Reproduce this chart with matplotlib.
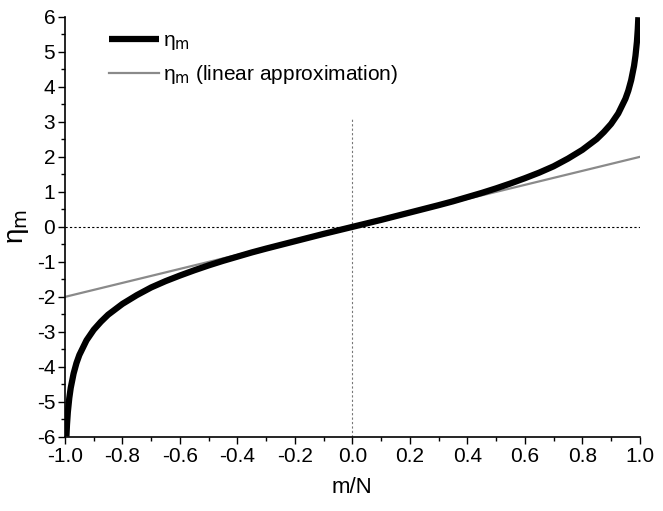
import matplotlib
matplotlib.use("Agg")
import matplotlib.pyplot as plt
from matplotlib.ticker import MultipleLocator

# values
m_over_n = [-0.995, -0.993, -0.99, -0.985, -0.98, -0.97, -0.96, -0.95, -0.925, -0.9,
            -0.875, -0.85, -0.8, -0.75, -0.7, -0.65, -0.6, -0.55, -0.5, -0.45,
            -0.4, -0.35, -0.3, -0.2, -0.1, 0.0, 0.1, 0.2, 0.3, 0.35,
            0.4, 0.45, 0.5, 0.55, 0.6, 0.65, 0.7, 0.75, 0.8, 0.85,
            0.875, 0.9, 0.925, 0.95, 0.96, 0.97, 0.98, 0.985, 0.99, 0.993, 0.995]
eta_m = [-5.99, -5.65, -5.29, -4.89, -4.60, -4.19, -3.89, -3.66, -3.24, -2.94,
         -2.71, -2.51, -2.20, -1.95, -1.73, -1.55, -1.39, -1.24, -1.10, -0.97,
         -0.85, -0.73, -0.62, -0.41, -0.20, 0.0, 0.20, 0.41, 0.62, 0.73,
         0.85, 0.97, 1.10, 1.24, 1.39, 1.55, 1.73, 1.95, 2.20, 2.51,
         2.71, 2.94, 3.24, 3.66, 3.89, 4.19, 4.60, 4.89, 5.29, 5.65, 5.99]
lin_x = [-1.0, 1.0]
lin_y = [-2.0, 2.0]

plt.rcParams.update({
    "font.family": ["Liberation Sans", "DejaVu Sans"],
    "font.size": 13,
    "mathtext.default": "regular",
})

fig = plt.figure(figsize=(6.63, 5.11), dpi=100)
ax = fig.add_axes([0.098, 0.145, 0.867, 0.822])

ax.axhline(0, color="black", linestyle=(0, (2, 2)), linewidth=0.8, zorder=1)
ax.plot([0, 0], [-6, 3.1], color="#777777", linestyle=(0, (2, 2)), linewidth=0.8, zorder=1)

ax.plot(m_over_n, eta_m, color="black", linewidth=4.5, solid_capstyle="butt",
        label=r"$\eta_{\mathsf{m}}$", zorder=3)
ax.plot(lin_x, lin_y, color="#8a8a8a", linewidth=1.6,
        label=r"$\eta_{\mathsf{m}}$ (linear approximation)", zorder=2)

ax.set_xlim(-1.0, 1.0)
ax.set_ylim(-6, 6)
ax.xaxis.set_major_locator(MultipleLocator(0.2))
ax.xaxis.set_minor_locator(MultipleLocator(0.1))
ax.yaxis.set_major_locator(MultipleLocator(1))
ax.yaxis.set_minor_locator(MultipleLocator(0.5))
ax.xaxis.set_major_formatter(plt.FuncFormatter(lambda v, p: f"{v:.1f}"))
ax.yaxis.set_major_formatter(plt.FuncFormatter(lambda v, p: f"{v:.0f}"))
ax.tick_params(which="major", length=5, width=1, labelsize=15, pad=2)
ax.tick_params(which="minor", length=3, width=1)

for side in ("top", "right"):
    ax.spines[side].set_visible(False)
for side in ("left", "bottom"):
    ax.spines[side].set_linewidth(1.2)

ax.set_xlabel("m/N", fontsize=16, labelpad=8)
ax.set_ylabel(r"$\eta_{\mathsf{m}}$", fontsize=20, labelpad=4)

ax.legend(loc="upper left", frameon=False, fontsize=15, handlelength=2.4,
          handletextpad=0.2, borderaxespad=0.2, labelspacing=0.5,
          bbox_to_anchor=(0.055, 0.995))

fig.savefig("out.png", dpi=100)
